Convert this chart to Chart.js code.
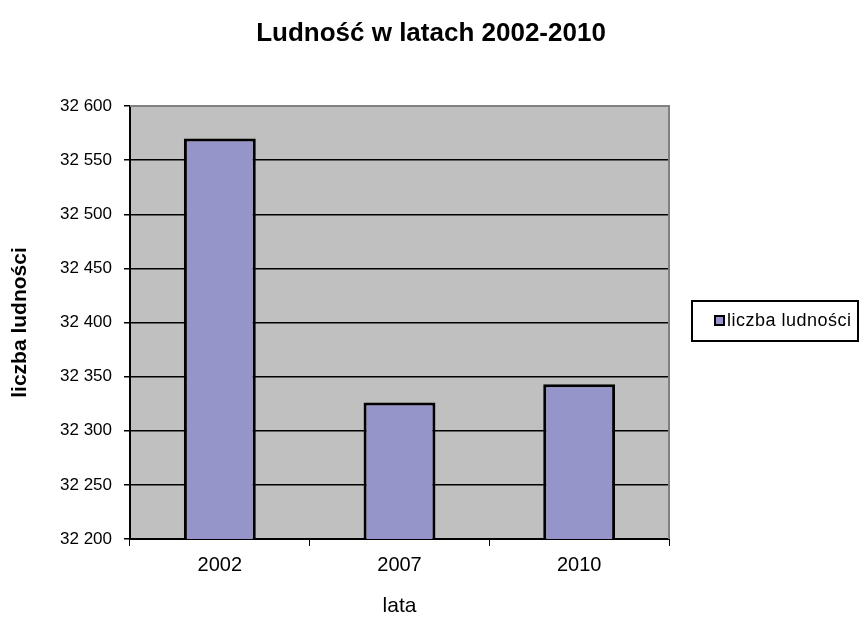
<!DOCTYPE html>
<html><head><meta charset="utf-8">
<script src="https://cdn.jsdelivr.net/npm/chart.js@4.4.1/dist/chart.umd.min.js"></script>
<style>html,body{margin:0;padding:0;background:#fff;}</style>
</head><body>
<canvas id="c" width="860" height="617"></canvas>
<script>
const categories = ['2002', '2007', '2010'];
const population = [32570, 32326, 32343];
const seriesLabel = 'liczba ludności';
const chartTitle = 'Ludność w latach 2002-2010';
const xAxisTitle = 'lata';
const yAxisTitle = 'liczba ludności';
const yMin = 32200, yMax = 32600, yStep = 50;

const FONT = '"Liberation Sans", Arial, sans-serif';
const BAR_FILL = '#9595C9';

function fmt(v) { return String(v).replace(/\B(?=(\d{3})+(?!\d))/g, ' '); }

const plotBg = {
  id: 'plotBg',
  beforeDraw(chart) {
    const {ctx, chartArea: a} = chart;
    ctx.save();
    ctx.fillStyle = '#C0C0C0';
    ctx.fillRect(a.left, a.top, a.right - a.left, a.bottom - a.top);
    ctx.restore();
  },
  afterDatasetsDraw(chart) {
    const {ctx, chartArea: a} = chart;
    ctx.save();
    ctx.strokeStyle = '#808080';
    ctx.lineWidth = 2;
    ctx.beginPath();
    ctx.moveTo(a.left, a.top);
    ctx.lineTo(a.right, a.top);
    ctx.lineTo(a.right, a.bottom);
    ctx.stroke();
    ctx.restore();
  }
};

const titleAndLegend = {
  id: 'titleAndLegend',
  afterDraw(chart) {
    const ctx = chart.ctx;
    const ds = chart.data.datasets[0];
    ctx.save();
    // title
    ctx.fillStyle = '#000';
    ctx.font = 'bold 26px ' + FONT;
    ctx.textAlign = 'center';
    ctx.textBaseline = 'middle';
    ctx.fillText(chartTitle, 431, 34);
    // legend box
    ctx.fillStyle = '#fff';
    ctx.fillRect(692, 301, 166, 40);
    ctx.strokeStyle = '#000';
    ctx.lineWidth = 2;
    ctx.strokeRect(692, 301, 166, 40);
    ctx.fillStyle = ds.backgroundColor;
    ctx.fillRect(715, 316, 9, 9);
    ctx.strokeRect(715, 316, 9, 9);
    ctx.fillStyle = '#000';
    ctx.font = '18px ' + FONT;
    if ('letterSpacing' in ctx) ctx.letterSpacing = '0.5px';
    ctx.textBaseline = 'middle';
    ctx.textAlign = 'left';
    ctx.fillText(ds.label, 727, 321);
    ctx.restore();
  }
};

new Chart(document.getElementById('c'), {
  type: 'bar',
  data: {
    labels: categories,
    datasets: [{
      label: seriesLabel,
      data: population,
      backgroundColor: BAR_FILL,
      borderColor: '#000',
      borderWidth: 3,
      borderSkipped: false,
      barPercentage: 0.4,
      categoryPercentage: 1.0
    }]
  },
  options: {
    responsive: false,
    animation: false,
    layout: { padding: { left: 0, right: 191, top: 106, bottom: 0 } },
    plugins: {
      legend: { display: false },
      tooltip: { enabled: false },
      title: { display: false }
    },
    scales: {
      x: {
        afterFit(scale) { scale.height = 78; },
        border: { display: true, color: '#000', width: 2 },
        grid: { display: true, offset: true, drawOnChartArea: false, drawTicks: true, tickLength: 7, color: '#000', lineWidth: 1 },
        ticks: { color: '#000', font: { family: FONT, size: 20 }, padding: 7 },
        title: { display: true, text: xAxisTitle, color: '#000', font: { family: FONT, size: 21, lineHeight: 1 }, padding: { top: 0, bottom: 0 } }
      },
      y: {
        min: yMin,
        max: yMax,
        afterFit(scale) { scale.width = 130; },
        border: { display: true, color: '#000', width: 2 },
        grid: {
          color: (c) => (c.tick && c.tick.value === yMax) ? 'rgba(0,0,0,0)' : '#000',
          lineWidth: 1.5,
          tickColor: '#000',
          tickLength: 6,
          drawTicks: true
        },
        ticks: {
          stepSize: yStep,
          color: '#000',
          font: { family: FONT, size: 17 },
          padding: 12,
          callback: (v) => fmt(v)
        },
        title: { display: true, text: yAxisTitle, color: '#000', font: { family: FONT, size: 21, weight: 'bold', lineHeight: 1 }, padding: { top: 10, bottom: 0 } }
      }
    }
  },
  plugins: [plotBg, titleAndLegend]
});
</script>
</body></html>
